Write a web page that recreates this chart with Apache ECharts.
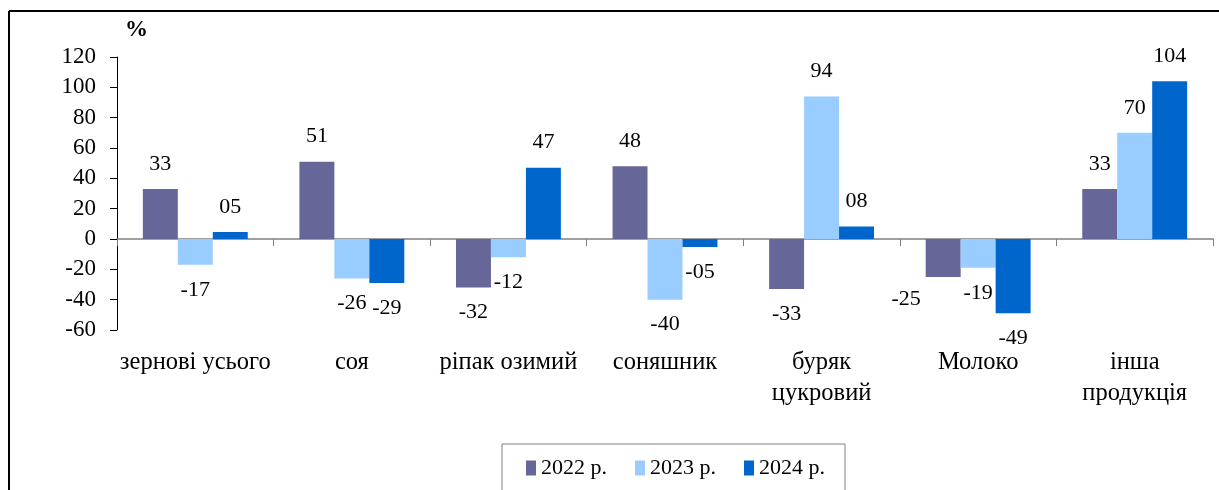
<!DOCTYPE html>
<html>
<head>
<meta charset="utf-8">
<script src="https://cdn.jsdelivr.net/npm/echarts@6/dist/echarts.min.js"></script>
<style>
  html, body { margin: 0; padding: 0; background: #fff; }
  #chart { width: 1219px; height: 490px; }
</style>
</head>
<body>
<div id="chart"></div>
<script>
// categories and values
const categories = ['зернові усього', 'соя', 'ріпак озимий', 'соняшник', 'буряк\nцукровий', 'Молоко', 'інша\nпродукція']
const seriesNames = ['2022 р.', '2023 р.', '2024 р.']
const v2022 = [33, 51, -32, 48, -33, -25, 33]
const v2023 = [-17, -26, -12, -40, 94, -19, 70]
const v2024 = [4.6, -29, 47, -5.3, 8.2, -49, 104]
const yMin = -60
const yMax = 120
const yStep = 20

const colors = ['#666699', '#99CCFF', '#0066CC']
const font = 'Liberation Serif'

// labels like "05", "-05"
function fmt(p) {
  let n = Math.round(Math.abs(p.value))
  return (p.value < 0 ? '-' : '') + String(n).padStart(2, '0')
}

function makeData(values, seriesIdx) {
  return values.map((v, i) => {
    let item = { value: v, label: { position: v < 0 ? 'bottom' : 'top' } }
    // label of Молоко 2022 sits left of its bar in the original
    if (seriesIdx === 0 && i === 5) item.label.offset = [-37, -3]
    return item
  })
}

const myChart = echarts.init(document.getElementById('chart'))
myChart.setOption({
  animation: false,
  color: colors,
  textStyle: { fontFamily: font },
  grid: { left: 117, right: 6, top: 57, bottom: 160 },
  graphic: [
    { type: 'line', shape: { x1: 9, y1: 11, x2: 9, y2: 490 }, style: { stroke: '#000', lineWidth: 2 } },
    { type: 'line', shape: { x1: 9, y1: 11, x2: 1219, y2: 11 }, style: { stroke: '#000', lineWidth: 2 } },
    { type: 'text', left: 125, top: 19, style: { text: '%', font: 'bold 23px "Liberation Serif"', fill: '#000' } },
  ],
  legend: {
    data: seriesNames,
    left: 502,
    top: 444,
    itemWidth: 10,
    itemHeight: 15,
    itemGap: 28,
    padding: [13, 20, 20, 24],
    borderColor: '#808080',
    borderWidth: 1,
    icon: 'rect',
    textStyle: { fontFamily: font, fontSize: 22, color: '#000' },
  },
  xAxis: [
    {
      type: 'category',
      data: categories,
      axisLine: { onZero: true, lineStyle: { color: '#808080', width: 1.5 } },
      axisTick: { show: true, length: 7, lineStyle: { color: '#808080' } },
      axisLabel: { show: false },
    },
    {
      type: 'category',
      data: categories,
      position: 'bottom',
      axisLine: { show: false, onZero: false },
      axisTick: { show: false },
      axisLabel: {
        interval: 0,
        margin: 17,
        fontFamily: font,
        fontSize: 24.5,
        lineHeight: 31,
        color: '#000',
      },
    },
  ],
  yAxis: {
    type: 'value',
    min: yMin,
    max: yMax,
    interval: yStep,
    axisLine: { show: true, lineStyle: { color: '#000' } },
    axisTick: { show: true, length: 7, lineStyle: { color: '#000' } },
    splitLine: { show: false },
    axisLabel: { margin: 21, fontFamily: font, fontSize: 23, color: '#000' },
  },
  series: [v2022, v2023, v2024].map((vals, k) => ({
    name: seriesNames[k],
    type: 'bar',
    xAxisIndex: 0,
    barGap: 0,
    barCategoryGap: '33%',
    data: makeData(vals, k),
    label: {
      show: true,
      distance: 14,
      formatter: fmt,
      fontFamily: font,
      fontSize: 22,
      color: '#000',
    },
  })),
})
</script>
</body>
</html>
